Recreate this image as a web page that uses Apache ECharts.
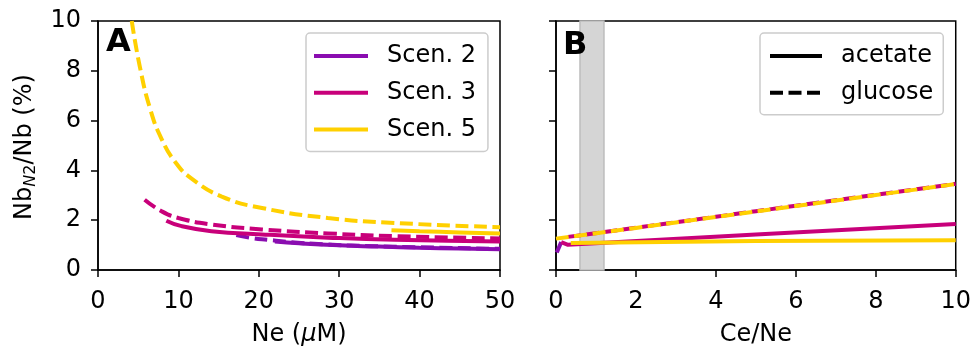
<!DOCTYPE html>
<html>
<head>
<meta charset="utf-8">
<script src="https://cdn.jsdelivr.net/npm/echarts@6/dist/echarts.min.js"></script>
<style>html,body{margin:0;padding:0;background:#fff;}#c{width:974px;height:352px;}</style>
</head>
<body>
<div id="c"></div>
<script>
// ---- Panel A: Nb_N2/Nb (%) vs Ne (uM) ----
var neXTicks = [0, 10, 20, 30, 40, 50];
var yTicks = [0, 2, 4, 6, 8, 10];
var scen2AcetNe  = [[22, 1.14], [25, 1.07], [30, 0.99], [35, 0.94], [40, 0.89], [45, 0.86], [50, 0.83]];
var scen2GlucNe  = [[17.2, 1.40], [19, 1.29], [21.2, 1.21], [24, 1.12], [28, 1.03], [35, 0.95], [50, 0.85]];
var scen3AcetNe  = [[8.5, 1.98], [10.4, 1.76], [14.1, 1.56], [20.4, 1.43], [28.6, 1.30], [36.9, 1.21], [50, 1.14]];
var scen3GlucNe  = [[5.8, 2.82], [7.9, 2.36], [10, 2.09], [14.1, 1.83], [20.4, 1.63], [28.6, 1.47], [36.9, 1.36], [50, 1.27]];
var scen5AcetNe  = [[36.5, 1.60], [40, 1.56], [45, 1.51], [50, 1.47]];
var scen5GlucNe  = [[4.2, 10], [5.2, 8.17], [6.5, 6.46], [7.9, 5.27], [9.6, 4.34], [11.6, 3.68], [15.4, 2.95], [20.4, 2.49], [28.6, 2.09], [36.9, 1.89], [50, 1.72]];

// ---- Panel B: Nb_N2/Nb (%) vs Ce/Ne ----
var ceXTicks = [0, 2, 4, 6, 8, 10];
var scen2AcetCe  = [[0.02, 0.70], [0.13, 1.12]];
var scen3AcetCe  = [[0.13, 1.12], [0.3, 1.01], [5, 1.43], [10, 1.85]];
var scen3GlucCe  = [[0.3, 1.33], [2, 1.70], [4, 2.14], [6, 2.58], [8, 3.02], [10, 3.46]];
var scen5AcetCe  = [[0.37, 1.08], [5, 1.16], [10, 1.19]];
var scen5GlucCe  = [[0, 1.26], [2, 1.69], [4, 2.13], [6, 2.57], [8, 3.01], [10, 3.45]];
var shadedBand   = [0.6, 1.2];

var scenNames = ['Scen. 2', 'Scen. 3', 'Scen. 5'];
var substrateNames = ['acetate', 'glucose'];

var PURPLE = '#8a0db0', MAGENTA = '#c8007a', YELLOW = '#ffd000';
var FONT = 'DejaVu Sans';
var FS = 24;
var LW = 4, DASH = [13, 5.5];

function line(name, data, color, dashed, gi, extra) {
  var s = {
    name: name, type: 'line', data: data, xAxisIndex: gi, yAxisIndex: gi,
    showSymbol: false, symbol: 'none', smooth: true, clip: true,
    lineStyle: { color: color, width: LW, type: dashed ? DASH : 'solid', cap: 'butt' },
    itemStyle: { color: color }, animation: false
  };
  if (extra) for (var k in extra) s[k] = extra[k];
  return s;
}

function xAx(gi, ticks, name) {
  return {
    type: 'value', gridIndex: gi, min: ticks[0], max: ticks[ticks.length - 1],
    interval: ticks[1] - ticks[0],
    name: name, nameLocation: 'middle', nameGap: 53,
    nameTextStyle: { fontFamily: FONT, fontSize: FS, color: '#000',
      rich: { n: { fontFamily: FONT, fontSize: FS, color: '#000' },
              i: { fontFamily: FONT, fontSize: FS, color: '#000', fontStyle: 'italic' } } },
    axisLine: { show: true, lineStyle: { color: '#000', width: 1.5 } },
    axisTick: { show: true, inside: false, length: 7, lineStyle: { color: '#000', width: 1.5 } },
    axisLabel: { fontFamily: FONT, fontSize: FS, color: '#000', margin: 20 },
    splitLine: { show: false }
  };
}
function yAx(gi, showLabels) {
  return {
    type: 'value', gridIndex: gi, min: yTicks[0], max: yTicks[yTicks.length - 1],
    interval: yTicks[1] - yTicks[0],
    axisLine: { show: true, lineStyle: { color: '#000', width: 1.5 } },
    axisTick: { show: true, inside: false, length: 7, lineStyle: { color: '#000', width: 1.5 } },
    axisLabel: { show: showLabels, fontFamily: FONT, fontSize: FS, color: '#000', margin: 17 },
    splitLine: { show: false }
  };
}

var legendCommon = {
  orient: 'vertical', top: 33,
  itemHeight: 14, itemGap: 10.7,
  borderColor: '#cccccc', borderWidth: 1.5, borderRadius: 4, backgroundColor: 'rgba(255,255,255,0.8)',
  itemStyle: { opacity: 0 },
  lineStyle: { width: LW },
  textStyle: { fontFamily: FONT, fontSize: FS, color: '#000', lineHeight: 26, padding: [0, 0, 0, 14] },
  selectedMode: false
};
function legend(extra) {
  var o = {};
  for (var k in legendCommon) o[k] = legendCommon[k];
  for (var j in extra) o[j] = extra[j];
  return o;
}

var chart = echarts.init(document.getElementById('c'), null, { renderer: 'canvas' });
var option = {
  animation: false,
  backgroundColor: '#fff',
  grid: [
    { left: 98, top: 21, width: 402, height: 252, show: true, borderColor: '#000', borderWidth: 1.5, backgroundColor: 'transparent' },
    { left: 556, top: 21, width: 402, height: 252, show: true, borderColor: '#000', borderWidth: 1.5, backgroundColor: 'transparent' }
  ],
  xAxis: [
    xAx(0, neXTicks, '{n|Ne (}{i|μ}{n|M)}'),
    xAx(1, ceXTicks, 'Ce/Ne')
  ],
  yAxis: [yAx(0, true), yAx(1, false)],
  legend: [
    legend({ data: scenNames, left: 306, itemWidth: 54, padding: [10, 12, 9, 6] }),
    legend({ data: substrateNames, left: 760, itemWidth: 52, padding: [10, 10, 9, 8] })
  ],
  graphic: [
    { type: 'text', x: 106, y: 27, style: { text: 'A', fontFamily: FONT, fontSize: 32, fontWeight: 'bold', fill: '#000' }, z: 100 },
    { type: 'text', x: 563, y: 30, style: { text: 'B', fontFamily: FONT, fontSize: 32, fontWeight: 'bold', fill: '#000' }, z: 100 },
    { type: 'text', x: 25, y: 147, rotation: Math.PI / 2,
      style: {
        text: '{a|Nb}{si|N}{s|2}{a|/Nb (%)}',
        align: 'center', verticalAlign: 'middle',
        rich: {
          a: { fontFamily: FONT, fontSize: FS, fill: '#000', lineHeight: 28 },
          si: { fontFamily: FONT, fontSize: 16, fill: '#000', fontStyle: 'italic', lineHeight: 15, verticalAlign: 'bottom' },
          s: { fontFamily: FONT, fontSize: 16, fill: '#000', lineHeight: 15, verticalAlign: 'bottom' }
        }
      }
    }
  ],
  series: [
    // shaded band in panel B
    { name: 'band', type: 'line', xAxisIndex: 1, yAxisIndex: 1, data: [], z: 1, silent: true,
      markArea: { silent: true, itemStyle: { color: '#d5d5d5', borderColor: '#bdbdbd', borderWidth: 1.5 },
        data: [[{ xAxis: shadedBand[0] }, { xAxis: shadedBand[1] }]] } },
    // panel A
    line('Scen. 2', scen2AcetNe, PURPLE, false, 0),
    line('Scen. 2 g', scen2GlucNe, PURPLE, true, 0),
    line('Scen. 3', scen3AcetNe, MAGENTA, false, 0),
    line('Scen. 3 g', scen3GlucNe, MAGENTA, true, 0),
    line('Scen. 5', scen5AcetNe, YELLOW, false, 0),
    line('Scen. 5 g', scen5GlucNe, YELLOW, true, 0),
    // panel B
    line('Scen. 2', scen2AcetCe, PURPLE, false, 1, { smooth: false }),
    line('Scen. 3', scen3AcetCe, MAGENTA, false, 1, { smooth: false }),
    line('Scen. 3 g', scen3GlucCe, MAGENTA, true, 1),
    line('Scen. 5', scen5AcetCe, YELLOW, false, 1),
    line('Scen. 5 g', scen5GlucCe, YELLOW, true, 1),
    // legend-only series for substrate styles
    line('acetate', [], '#000', false, 1),
    line('glucose', [], '#000', true, 1)
  ]
};
chart.setOption(option);
</script>
</body>
</html>
